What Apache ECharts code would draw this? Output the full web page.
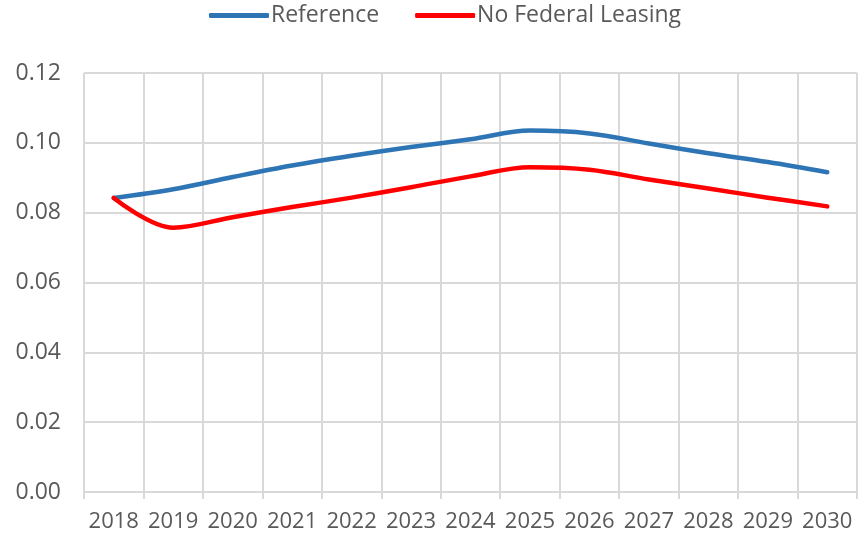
<!DOCTYPE html>
<html>
<head>
<meta charset="utf-8">
<script src="https://cdn.jsdelivr.net/npm/echarts@6/dist/echarts.min.js"></script>
<style>
html,body{margin:0;padding:0;background:#fff;}
#chart{width:858px;height:539px;}
</style>
</head>
<body>
<div id="chart"></div>
<script>
const years = ['2018','2019','2020','2021','2022','2023','2024','2025','2026','2027','2028','2029','2030'];
const referenceSeries = [0.0842, 0.0867, 0.0902, 0.0935, 0.0963, 0.0988, 0.1010, 0.1035, 0.1027, 0.0998, 0.0970, 0.0945, 0.0916];
const noFederalLeasing = [0.0842, 0.0757, 0.0787, 0.0816, 0.0843, 0.0873, 0.0904, 0.0930, 0.0923, 0.0895, 0.0869, 0.0843, 0.0818];
const seriesNames = ['Reference', 'No Federal Leasing'];
const yTicks = [0, 0.02, 0.04, 0.06, 0.08, 0.10, 0.12];

const FONT = '"Open Sans", "Noto Sans", sans-serif';
const TXT = '#595959';
const GRID = '#d9d9d9';

const chart = echarts.init(document.getElementById('chart'), null, {renderer: 'canvas'});
chart.setOption({
  animation: false,
  backgroundColor: '#ffffff',
  textStyle: {fontFamily: FONT},
  legend: {
    left: 209,
    top: 4,
    padding: 0,
    icon: 'roundRect',
    itemWidth: 60,
    itemHeight: 5,
    itemGap: 36,
    textStyle: {color: TXT, fontSize: 23, fontFamily: FONT, padding: [0, 0, 0, -3]},
    data: seriesNames
  },
  grid: {left: 84, right: 1, top: 73, bottom: 47, containLabel: false},
  xAxis: {
    type: 'category',
    data: years,
    boundaryGap: true,
    axisLine: {show: true, lineStyle: {color: GRID, width: 2}},
    axisTick: {show: true, length: 7, lineStyle: {color: GRID, width: 2}},
    axisLabel: {color: TXT, fontSize: 22, fontFamily: FONT, margin: 19, interval: 0},
    splitLine: {show: true, lineStyle: {color: GRID, width: 2}}
  },
  yAxis: {
    type: 'value',
    min: yTicks[0],
    max: yTicks[yTicks.length - 1],
    interval: 0.02,
    axisLine: {show: false},
    axisTick: {show: false},
    axisLabel: {color: TXT, fontSize: 23, fontFamily: FONT, margin: 23, padding: [4, 0, 0, 0],
      formatter: v => v.toFixed(2)},
    splitLine: {show: true, lineStyle: {color: GRID, width: 2}}
  },
  series: [
    {
      name: seriesNames[0], type: 'line', data: referenceSeries,
      smooth: 0.35, showSymbol: false, symbol: 'none',
      color: '#2E75B6',
      lineStyle: {color: '#2E75B6', width: 4.5, cap: 'round', join: 'round'}
    },
    {
      name: seriesNames[1], type: 'line', data: noFederalLeasing,
      smooth: 0.35, showSymbol: false, symbol: 'none',
      color: '#FF0000',
      lineStyle: {color: '#FF0000', width: 4.5, cap: 'round', join: 'round'}
    }
  ]
});
</script>
</body>
</html>
